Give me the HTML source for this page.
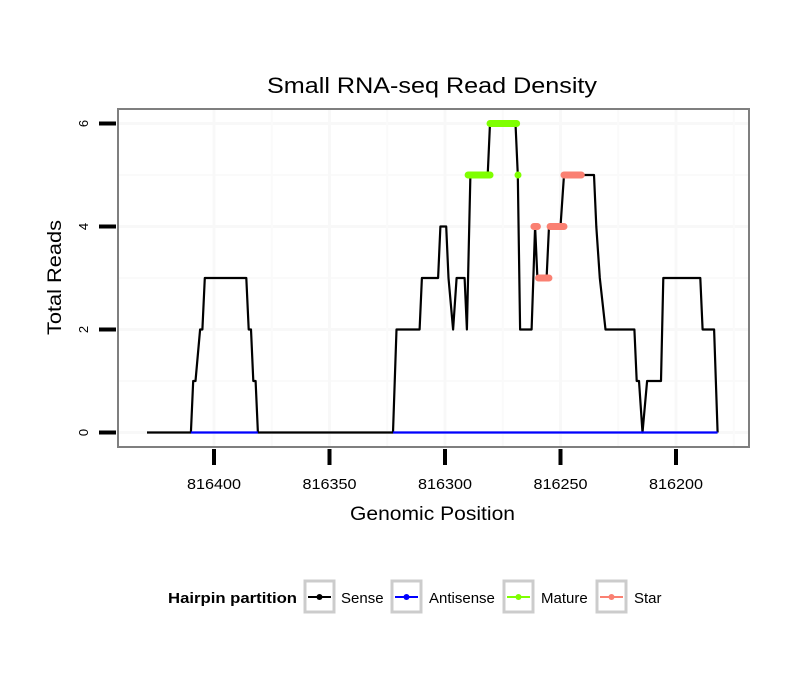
<!DOCTYPE html>
<html><head><meta charset="utf-8"><style>
body{margin:0;background:#fff;font-family:"Liberation Sans",sans-serif}
</style></head><body>
<svg id="chart" width="810" height="690" xmlns="http://www.w3.org/2000/svg" font-family="Liberation Sans, sans-serif">
<rect width="810" height="690" fill="#fff"/>
<text x="267" y="93" font-size="22" textLength="330" lengthAdjust="spacingAndGlyphs">Small RNA-seq Read Density</text>
<g id="grid"></g>
<g id="series"></g>
<rect x="118" y="109" width="631" height="338" fill="none" stroke="#7f7f7f" stroke-width="2"/>
<g id="axes"></g>
<text x="350" y="520" font-size="19" textLength="165" lengthAdjust="spacingAndGlyphs">Genomic Position</text>
<text transform="translate(61,335) rotate(-90)" font-size="19" textLength="115" lengthAdjust="spacingAndGlyphs">Total Reads</text>
<g>
<text x="168" y="603" font-size="15" font-weight="bold" textLength="129" lengthAdjust="spacingAndGlyphs">Hairpin partition</text>
<g><rect x="305" y="581" width="29" height="31" fill="#fff" stroke="#ccc" stroke-width="3"/><line x1="308" y1="597" x2="331" y2="597" stroke="#000" stroke-width="2"/><circle cx="319.5" cy="597" r="3" fill="#000"/><text x="341" y="603" font-size="15">Sense</text></g>
<g><rect x="392" y="581" width="29" height="31" fill="#fff" stroke="#ccc" stroke-width="3"/><line x1="395" y1="597" x2="418" y2="597" stroke="#00f" stroke-width="2"/><circle cx="406.5" cy="597" r="3" fill="#00f"/><text x="429" y="603" font-size="15">Antisense</text></g>
<g><rect x="504" y="581" width="29" height="31" fill="#fff" stroke="#ccc" stroke-width="3"/><line x1="507" y1="597" x2="530" y2="597" stroke="#7fff00" stroke-width="2"/><circle cx="518.5" cy="597" r="3" fill="#7fff00"/><text x="541" y="603" font-size="15">Mature</text></g>
<g><rect x="597" y="581" width="29" height="31" fill="#fff" stroke="#ccc" stroke-width="3"/><line x1="600" y1="597" x2="623" y2="597" stroke="#fa8072" stroke-width="2"/><circle cx="611.5" cy="597" r="3" fill="#fa8072"/><text x="634" y="603" font-size="15">Star</text></g>
</g>
</svg>
<script>
const xTicks=[816400,816350,816300,816250,816200];
const xMinor=[816375,816325,816275,816225,816175];
const yTicks=[0,2,4,6];
const yMinor=[1,3,5];
const sensePos=[816429,816410,816409,816408,816406,816405,816404,816386,816385,816384,816383,816382,816381,816322.5,816321,816311,816310,816303,816302,816299.5,816298.5,816296.5,816295,816291.5,816290.5,816289,816281.5,816280.5,816269.5,816268.5,816267.5,816262.5,816261,816260,816256,816255,816250,816248.5,816235.5,816234.5,816233,816230.5,816218,816217,816216,816214.5,816212.5,816206.5,816205.5,816189.5,816188.5,816183.5,816182];
const senseVal=[0,0,1,1,2,2,3,3,2,2,1,1,0,0,2,2,3,3,4,4,3,2,3,3,2,5,5,6,6,5,2,2,4,3,3,4,4,5,5,4,3,2,2,1,1,0,1,1,3,3,2,2,0];
const antiSegs=[[816410,816381],[816322.5,816182]];
const matureSegs=[[816290,816280.5,5],[816280.5,816269,6],[816268.4,816268.4,5]];
const starSegs=[[816261.5,816260,4],[816259.5,816255,3],[816254.5,816248.5,4],[816248.5,816241,5]];
const NS='http://www.w3.org/2000/svg';
function X(p){return 214-(p-816400)*2.31;}
function Y(v){return 432.5-v*51.5;}
function mk(t,a,parent){const e=document.createElementNS(NS,t);for(const k in a)e.setAttribute(k,a[k]);parent.appendChild(e);return e;}
const grid=document.getElementById('grid'),ser=document.getElementById('series'),axes=document.getElementById('axes');
yMinor.forEach(v=>{const l=mk('line',{x1:118,x2:749,y1:Y(v),y2:Y(v),stroke:'#fafafa','stroke-width':2},grid);

});
yTicks.forEach(v=>{const l=mk('line',{x1:118,x2:749,y1:Y(v),y2:Y(v),stroke:'#f8f8f8','stroke-width':3},grid);


const t=mk('line',{x1:99,x2:116,y1:Y(v),y2:Y(v),stroke:'#000','stroke-width':4},axes);


const tx=mk('text',{transform:`translate(88,${Y(v)}) rotate(-90)`,'font-size':13,'text-anchor':'middle'},axes);tx.textContent=v;

});
xMinor.forEach(p=>{const l=mk('line',{x1:X(p),x2:X(p),y1:109,y2:447,stroke:'#fafafa','stroke-width':2},grid);

});
xTicks.forEach(p=>{const l=mk('line',{x1:X(p),x2:X(p),y1:109,y2:447,stroke:'#f8f8f8','stroke-width':3},grid);


const t=mk('line',{x1:X(p),x2:X(p),y1:449,y2:465,stroke:'#000','stroke-width':4},axes);


const tx=mk('text',{x:X(p),y:489,'font-size':15,'text-anchor':'middle',textLength:54,lengthAdjust:'spacingAndGlyphs'},axes);tx.textContent=p;

});
const pts=sensePos.map((p,i)=>X(p).toFixed(1)+','+Y(senseVal[i]).toFixed(1)).join(' ');
const sl=mk('polyline',{points:pts,fill:'none',stroke:'#000','stroke-width':2.2,'stroke-linejoin':'round'},ser);


antiSegs.forEach(s=>{const l=mk('line',{x1:X(s[0]),x2:X(s[1]),y1:Y(0),y2:Y(0),stroke:'#00f','stroke-width':2.2},ser);

});
matureSegs.forEach(s=>{const l=mk('line',{x1:X(s[0]),x2:X(s[1]),y1:Y(s[2]),y2:Y(s[2]),stroke:'#7fff00','stroke-width':7,'stroke-linecap':'round'},ser);

});
starSegs.forEach(s=>{const l=mk('line',{x1:X(s[0]),x2:X(s[1]),y1:Y(s[2]),y2:Y(s[2]),stroke:'#fa8072','stroke-width':7,'stroke-linecap':'round'},ser);

});
</script>
</body></html>
